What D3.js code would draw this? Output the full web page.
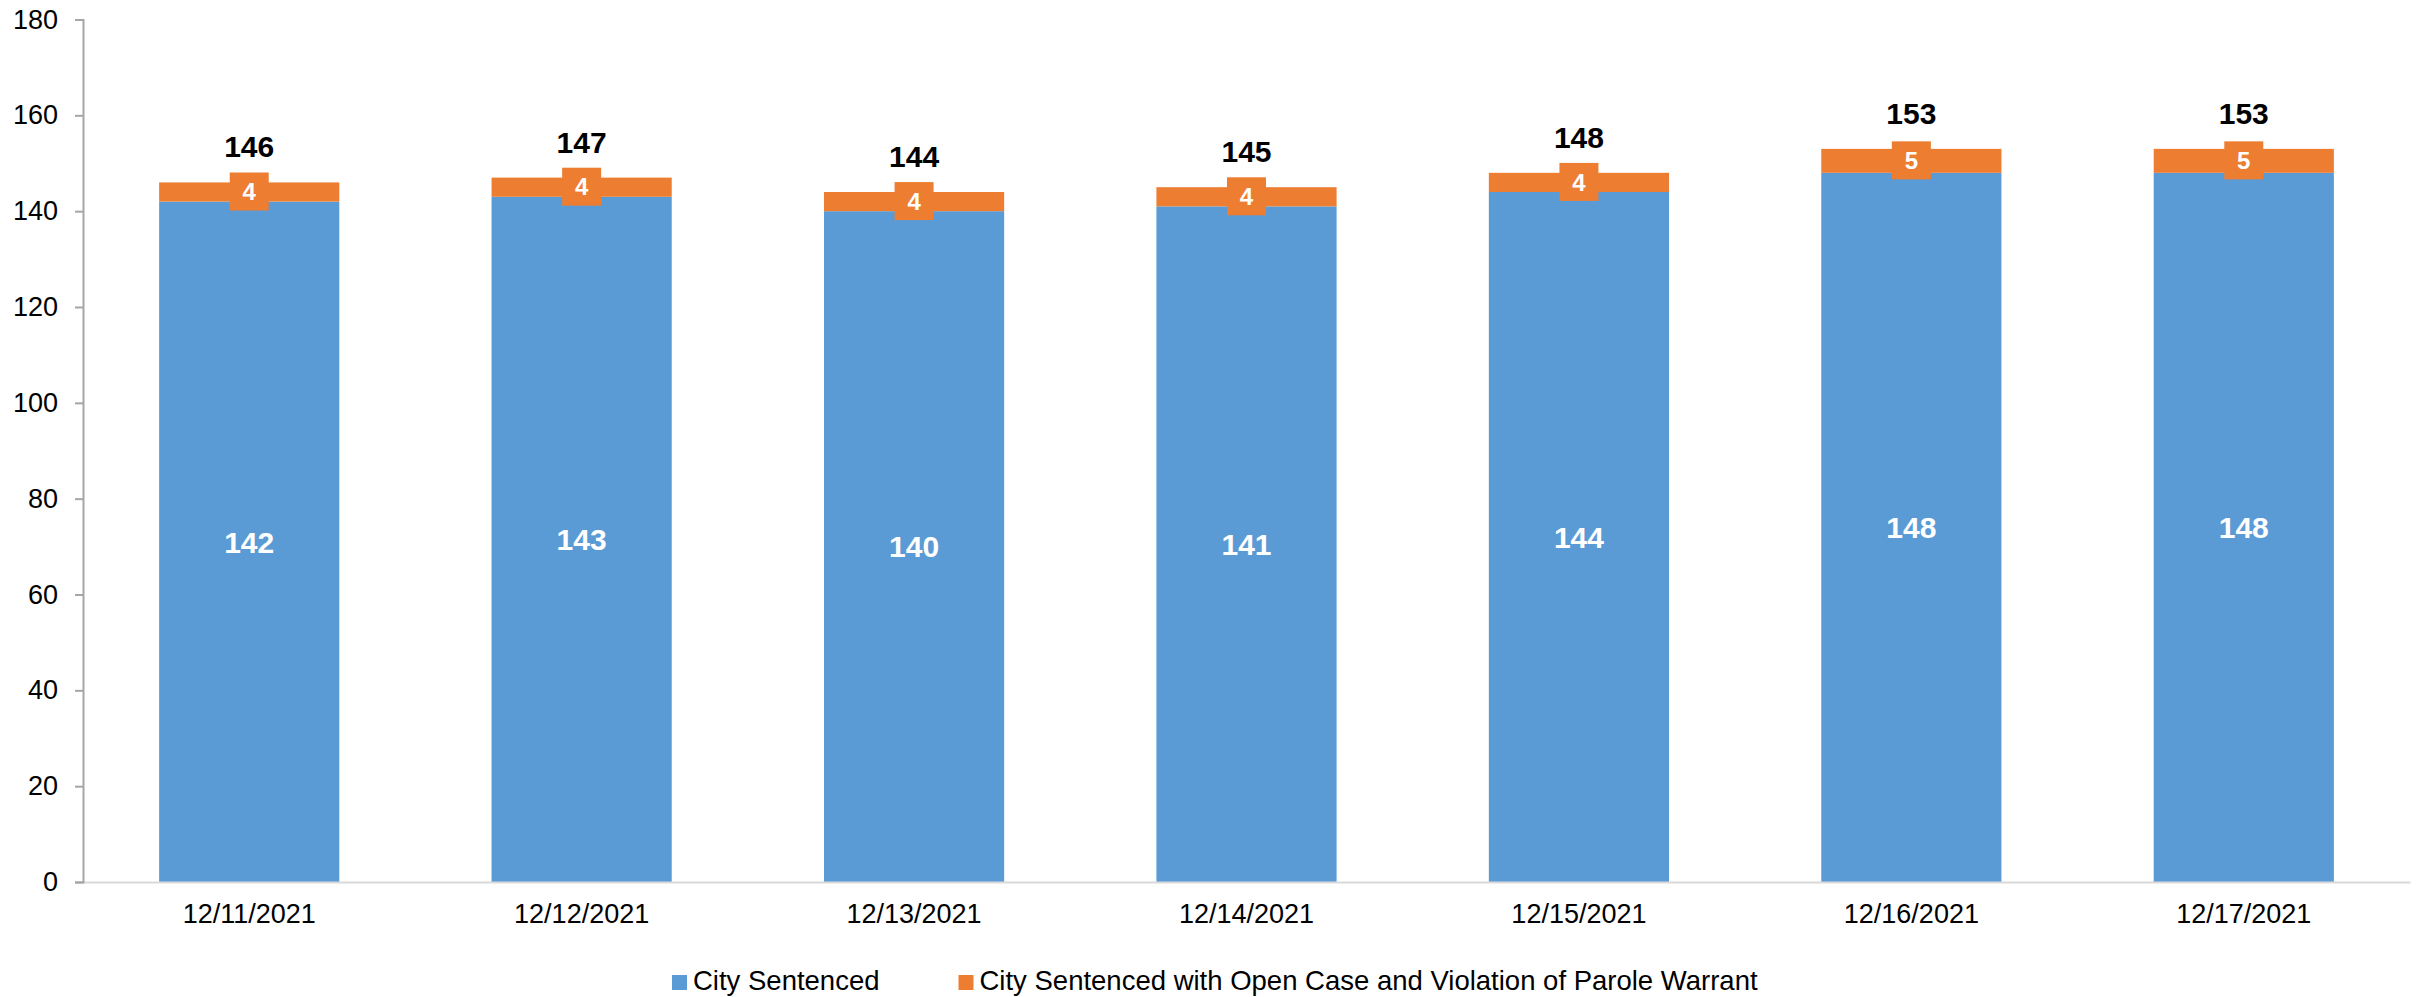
<!DOCTYPE html>
<html>
<head>
<meta charset="utf-8">
<script src="https://cdn.jsdelivr.net/npm/d3@7"></script>
<style>
  body { margin: 0; background: #fff; }
  text { font-family: "Liberation Sans", Arial, sans-serif; }
</style>
</head>
<body>
<svg id="chart" width="2425" height="997"></svg>
<script>
// data
var dates = ["12/11/2021", "12/12/2021", "12/13/2021", "12/14/2021", "12/15/2021", "12/16/2021", "12/17/2021"];
var citySentenced = [142, 143, 140, 141, 144, 148, 148];
var openCaseParole = [4, 4, 4, 4, 4, 5, 5];
var seriesNames = ["City Sentenced", "City Sentenced with Open Case and Violation of Parole Warrant"];
var seriesColors = ["#5B9BD5", "#ED7D31"];
var yTicks = [0, 20, 40, 60, 80, 100, 120, 140, 160, 180];

var svg = d3.select("#chart"),
    plotLeft = 83, plotRight = 2410, plotTop = 19.5, plotBottom = 882;

var x = d3.scaleBand().domain(dates).range([plotLeft, plotRight]).paddingInner(0.458).paddingOuter(0.229);
var y = d3.scaleLinear().domain([0, 180]).range([plotBottom, plotTop]);

var rows = dates.map(function (d, i) {
    return { date: d, a: citySentenced[i], b: openCaseParole[i] };
});
var stacked = d3.stack().keys(["a", "b"])(rows);

// bars
var layers = svg.append("g").selectAll("g")
    .data(stacked).enter().append("g")
    .attr("fill", function (d, i) { return seriesColors[i]; });
layers.selectAll("rect")
    .data(function (d) { return d; }).enter().append("rect")
    .attr("x", function (d) { return x(d.data.date); })
    .attr("width", x.bandwidth())
    .attr("y", function (d) { return y(d[1]); })
    .attr("height", function (d) { return y(d[0]) - y(d[1]); });

// axes
var xAxis = svg.append("g")
    .attr("transform", "translate(0," + plotBottom + ")")
    .call(d3.axisBottom(x).tickSize(0).tickPadding(15));
xAxis.select(".domain").attr("stroke", "#D9D9D9").attr("stroke-width", 2);
xAxis.selectAll("text").attr("font-size", 27).attr("fill", "#000").attr("dy", "0.95em")
    .style("font-family", "'Liberation Sans', Arial, sans-serif");

var yAxis = svg.append("g")
    .attr("transform", "translate(" + plotLeft + ",0)")
    .call(d3.axisLeft(y).tickValues(yTicks).tickSize(8).tickPadding(17));
yAxis.select(".domain").attr("stroke", "#A6A6A6").attr("stroke-width", 2);
yAxis.selectAll(".tick line").attr("stroke", "#A6A6A6").attr("stroke-width", 2);
yAxis.selectAll("text").attr("font-size", 27).attr("fill", "#000")
    .style("font-family", "'Liberation Sans', Arial, sans-serif");

// labels inside blue segment
svg.append("g").selectAll("text")
    .data(rows).enter().append("text")
    .attr("x", function (d) { return x(d.date) + x.bandwidth() / 2; })
    .attr("y", function (d) { return (y(0) + y(d.a)) / 2; })
    .attr("dy", "0.36em")
    .attr("text-anchor", "middle")
    .attr("font-size", 30).attr("font-weight", "bold").attr("fill", "#fff")
    .text(function (d) { return d.a; });

// orange labels with boxes
var orangeLbl = svg.append("g").selectAll("g")
    .data(rows).enter().append("g")
    .attr("transform", function (d) {
        return "translate(" + (x(d.date) + x.bandwidth() / 2) + "," + (y(d.a + d.b / 2) - 0.5) + ")";
    });
orangeLbl.append("rect")
    .attr("x", -19.5).attr("y", -19)
    .attr("width", 39).attr("height", 38)
    .attr("fill", seriesColors[1]);
orangeLbl.append("text")
    .attr("dy", "0.36em")
    .attr("text-anchor", "middle")
    .attr("font-size", 24).attr("font-weight", "bold").attr("fill", "#fff")
    .text(function (d) { return d.b; });

// totals above
svg.append("g").selectAll("text")
    .data(rows).enter().append("text")
    .attr("x", function (d) { return x(d.date) + x.bandwidth() / 2; })
    .attr("y", function (d) { return y(d.a + d.b) - 25; })
    .attr("text-anchor", "middle")
    .attr("font-size", 30).attr("font-weight", "bold").attr("fill", "#000")
    .text(function (d) { return d.a + d.b; });

// legend
var legend = svg.append("g").attr("transform", "translate(672,975)");
var lx = 0;
seriesNames.forEach(function (name, i) {
    var item = legend.append("g").attr("transform", "translate(" + lx + ",0)");
    item.append("rect").attr("width", 15).attr("height", 15).attr("fill", seriesColors[i]);
    var t = item.append("text")
        .attr("x", 21).attr("y", 15)
        .attr("font-size", 27.5).attr("fill", "#000")
        .text(name);
    lx += 21 + t.node().getComputedTextLength() + 79;
});
</script>
</body>
</html>
